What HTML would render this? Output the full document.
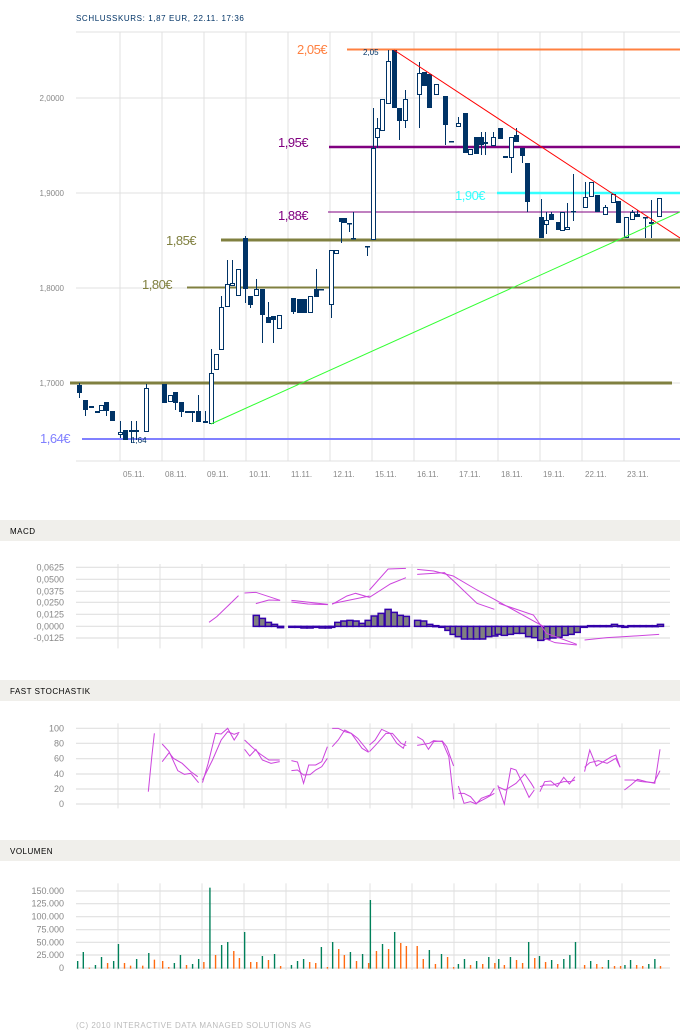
<!DOCTYPE html>
<html><head><meta charset="utf-8"><style>
html,body{margin:0;padding:0;background:#fff;width:680px;height:1034px;overflow:hidden}
svg{display:block;font-family:"Liberation Sans",sans-serif}
.ax{font-size:8px;fill:#888}
.hd{font-size:8px;fill:#000;letter-spacing:0.5px}
</style></head><body>
<svg id="s" width="680" height="1034" xmlns="http://www.w3.org/2000/svg">
<text x="76" y="21" style="font-size:8px;fill:#003366;letter-spacing:0.6px">SCHLUSSKURS: 1,87 EUR, 22.11. 17:36</text>
<g id="main"></g>
<rect x="0" y="520" width="680" height="21" fill="#f0efeb"/>
<text x="10" y="534" class="hd">MACD</text>
<rect x="0" y="680" width="680" height="21" fill="#f0efeb"/>
<text x="10" y="694" class="hd">FAST STOCHASTIK</text>
<rect x="0" y="840" width="680" height="21" fill="#f0efeb"/>
<text x="10" y="854" class="hd">VOLUMEN</text>
<g id="macd"></g><g id="sto"></g><g id="vol"></g>
<text x="76" y="1028" style="font-size:8px;fill:#bbb;letter-spacing:0.5px">(C) 2010 INTERACTIVE DATA MANAGED SOLUTIONS AG</text>
</svg>
<script>
var NS="http://www.w3.org/2000/svg";
function el(p,t,a,txt){var e=document.createElementNS(NS,t);for(var k in a)e.setAttribute(k,a[k]);if(txt!=null)e.textContent=txt;p.appendChild(e);return e;}
var m=document.getElementById('main');
// grid
el(m,'line',{x1:76,y1:32,x2:680,y2:32,stroke:'#e0e0e0'});
el(m,'line',{x1:76,y1:461,x2:680,y2:461,stroke:'#e0e0e0'});
[[98,'2,0000'],[193,'1,9000'],[288,'1,8000'],[383,'1,7000']].forEach(function(g){el(m,'line',{x1:76,y1:g[0],x2:680,y2:g[0],stroke:'#e0e0e0'});el(m,'text',{x:64,y:g[0]+3,'text-anchor':'end','class':'ax'},g[1]);});
var dates=['05.11.','08.11.','09.11.','10.11.','11.11.','12.11.','15.11.','16.11.','17.11.','18.11.','19.11.','22.11.','23.11.'];
for(var k=0;k<13;k++){var x=120+42*k;el(m,'line',{x1:x,y1:32,x2:x,y2:461,stroke:'#e0e0e0'});el(m,'text',{x:x+3,y:477,'class':'ax'},dates[k]);}
// horizontal levels
function hl(y,x1,x2,c,w){el(m,'line',{x1:x1,y1:y,x2:x2,y2:y,stroke:c,'stroke-width':w});}
hl(49.5,347,680,'#ff8040',2);hl(147,329,680,'#800080',2.5);hl(193,497,680,'#33ffff',2.5);hl(212,328,680,'#800080',1);
hl(240,221,680,'#808040',3);hl(287.5,187,680,'#808040',2);hl(383,70,672,'#808040',3);hl(439,82,680,'#8080ff',2);
function lb(x,y,t,c){el(m,'text',{x:x,y:y,style:'font-size:13px;fill:'+c+';letter-spacing:-0.5px'},t);}
lb(297,54,'2,05€','#ff8040');lb(278,147,'1,95€','#800080');lb(455,200,'1,90€','#33ffff');lb(278,220,'1,88€','#800080');
lb(166,245,'1,85€','#808040');lb(142,289,'1,80€','#808040');lb(40,443,'1,64€','#8080ff');
// candles
var C=[[79,385,393,383,398,1],[85,400,410,400,416,1],[91,406,408,406,408,1],[97,411,413,411,413,1],[101,405,411,405,411,0],[106,402,411,402,416,1],[112,411,421,411,421,1],[120,432,435,421,438,0],[125,430,440,430,440,1],[131,430,432,421,443,0],[136,430,432,421,440,1],[146,388,432,384,432,0],[164,384,403,384,403,1],[170,395,402,395,402,0],[175,392,403,392,410,1],[181,402,412,402,417,1],[187,411,413,411,413,1],[192,411,413,411,422,1],[198,411,422,395,422,1],[205,421,423,411,423,1],[211,373,424,349,424,0],[216,354,370,354,370,0],[221,307,350,296,350,0],[227,284,307,260,307,0],[232,283,286,260,286,0],[238,269,296,269,296,0],[245,238,289,236,303,1],[250,296,305,296,308,1],[256,289,296,279,296,0],[262,289,315,289,343,1],[268,317,323,302,323,1],[273,316,320,316,343,1],[279,315,329,315,329,0],[293,298,312,298,314,1],[299,299,313,299,313,1],[304,299,313,299,313,1],[310,296,313,296,313,0],[316,289,297,269,297,1],[321,289,290,289,290,1],[331,250,305,250,318,0],[336,250,254,250,254,0],[341,218,222,218,243,1],[344,218,223,218,223,1],[349,223,224,223,232,1],[353,238,239,212,239,1],[367,246,247,246,256,1],[373,148,240,108,240,0],[377,128,138,118,148,0],[382,99,131,99,131,0],[388,61,104,50,104,0],[394,50,108,50,108,1],[399,108,121,108,140,1],[405,99,121,90,128,0],[419,73,95,62,128,0],[424,72,86,72,86,1],[429,74,108,74,108,1],[436,84,95,84,95,0],[445,96,125,96,145,1],[451,141,142,141,142,1],[458,123,127,117,127,0],[465,113,153,113,153,1],[470,149,155,149,155,0],[476,137,154,137,154,1],[481,137,145,132,155,1],[485,142,144,132,155,0],[493,137,146,132,146,0],[500,128,139,128,139,1],[505,156,158,156,158,1],[511,137,158,137,173,0],[516,135,142,128,142,1],[522,148,156,148,163,1],[527,163,202,163,212,1],[541,217,238,199,238,1],[546,220,225,212,234,0],[551,214,220,212,220,1],[558,222,230,222,230,1],[562,212,231,212,231,0],[567,227,230,203,230,0],[573,211,212,174,221,1],[585,197,208,182,208,0],[591,182,197,182,197,0],[597,195,212,195,212,1],[605,207,215,205,215,0],[613,194,203,194,203,0],[618,201,223,201,223,1],[626,217,238,217,238,0],[632,212,220,210,220,0],[637,214,217,210,217,1],[645,217,218,217,238,1],[651,222,224,200,238,1],[659,198,217,198,217,0]];
C.forEach(function(c){el(m,'line',{x1:c[0]+0.5,y1:c[3],x2:c[0]+0.5,y2:c[4],stroke:'#003366'});
 if(c[5])el(m,'rect',{x:c[0]-2,y:c[1],width:5,height:Math.max(1.5,c[2]-c[1]),fill:'#003366'});
 else el(m,'rect',{x:c[0]-1.5,y:c[1]+0.5,width:4,height:Math.max(1,c[2]-c[1]-1),fill:'#fff',stroke:'#003366'});});
el(m,'text',{x:363,y:55,style:'font-size:8px;fill:#003366'},'2,05');
el(m,'text',{x:131,y:443,style:'font-size:8px;fill:#003366'},'1,64');
el(m,'line',{x1:394,y1:50,x2:680,y2:238,stroke:'#ff0000'});
el(m,'line',{x1:211,y1:424,x2:680,y2:212,stroke:'#33ff33'});
// sub panels via zoom coordinates
function panel(id,y0,labels,vy1,vy2){var g=document.getElementById(id);
 labels.forEach(function(l){var y=y0+l[0]/3;el(g,'line',{x1:76,y1:y,x2:670,y2:y,stroke:'#e0e0e0','stroke-width':1.2});el(g,'text',{x:64,y:y+3,'text-anchor':'end','class':'ax',style:'font-size:9px'},l[1]);});
 for(var k=0;k<13;k++){var x=118+42*k;el(g,'line',{x1:x,y1:y0+vy1/3,x2:x,y2:y0+vy2/3,stroke:'#e0e0e0'});}
 return el(g,'g',{transform:'translate(0,'+y0+') scale('+(1/2.306)+','+(1/3)+')'});}
function pl(g,pts,c,w){el(g,'polyline',{points:pts.map(function(p){return p.join(',')}).join(' '),fill:'none',stroke:c,'stroke-width':w||1,'vector-effect':'non-scaling-stroke'});}
// MACD
var mg=panel('macd',510,[[172,'0,0625'],[208,'0,0500'],[244,'0,0375'],[277,'0,0250'],[313,'0,0125'],[349,'0,0000'],[384,'-0,0125']],162,415);
var H=[[584,316],[598,325],[612,337],[626,343],[640,353],[666,352],[680,352],[694,354],[708,354],[722,351],[736,354],[750,354],[758,352],[772,337],[786,333],[800,331],[814,333],[828,340],[842,331],[856,318],[872,310],[888,298],[902,307],[916,316],[930,319],[956,331],[970,333],[984,343],[998,347],[1012,352],[1026,361],[1038,373],[1050,380],[1064,387],[1078,387],[1092,387],[1106,387],[1120,380],[1134,378],[1142,373],[1156,376],[1170,373],[1184,370],[1198,370],[1212,380],[1226,383],[1240,391],[1254,387],[1268,384],[1282,382],[1296,376],[1310,373],[1324,367],[1340,352],[1355,347],[1370,347],[1384,347],[1398,347],[1410,343],[1424,347],[1434,352],[1448,347],[1462,347],[1476,347],[1490,347],[1504,347],[1516,343]];
H.forEach(function(h){var t=Math.min(h[1],349),b=Math.max(h[1],349);el(mg,'rect',{x:h[0],y:t,width:14,height:Math.max(3,b-t),fill:'#808080',stroke:'#3300aa','stroke-width':1.5,'vector-effect':'non-scaling-stroke'});});
var mc='#cc44dd';
[[[482,337],[500,320],[550,257]],[[564,249],[590,247],[646,271]],[[590,281],[620,270],[646,271]],[[672,271],[700,275],[756,283]],[[672,276],[710,282],[756,284]],[[766,283],[800,258],[820,250],[852,262]],[[766,281],[852,258]],[[852,240],[895,177],[936,175]],[[852,262],[900,222],[936,203]],[[962,178],[1000,183],[1045,198],[1100,240],[1140,268],[1240,340],[1255,350]],[[962,193],[1025,188],[1050,218],[1100,280],[1140,298]],[[1150,280],[1230,315],[1260,370],[1330,403]],[[1255,385],[1280,398],[1330,405]],[[1348,390],[1400,383],[1440,380],[1520,373]]].forEach(function(p){pl(mg,p,mc);});
// Stochastik
var sg=panel('sto',680,[[145,'100'],[190,'80'],[236,'60'],[282,'40'],[327,'20'],[372,'0']],130,385);
[[[342,335],[350,230],[356,160]],[[374,192],[390,215],[410,272],[425,283],[440,280],[458,308]],[[374,245],[390,218],[400,235],[420,250],[440,275],[456,290]],[[467,308],[480,250],[497,160],[510,162],[525,145],[540,180],[550,160]],[[467,300],[490,240],[510,180],[525,155],[540,163],[552,157]],[[564,180],[580,200],[600,222],[620,240],[645,240]],[[564,208],[576,228],[590,208],[605,240],[625,250],[645,245]],[[672,242],[686,246],[700,310],[712,255],[728,255],[742,245],[755,200]],[[672,272],[686,270],[700,285],[715,284],[728,270],[742,260],[755,235]],[[766,145],[780,145],[795,155],[810,160],[825,175],[850,215]],[[766,200],[780,180],[795,150],[810,160],[835,205],[850,217]],[[852,195],[865,180],[880,148],[900,160],[915,190],[930,205],[936,183]],[[852,215],[870,190],[890,160],[905,160],[925,190],[937,197]],[[962,170],[975,180],[988,208],[1000,185],[1020,183],[1030,200],[1046,258]],[[962,196],[990,190],[1000,182],[1020,185],[1035,230],[1046,358]],[[1057,318],[1070,370],[1085,365],[1098,372],[1110,355],[1130,345],[1140,325]],[[1057,340],[1070,340],[1085,350],[1098,370],[1120,355],[1140,340]],[[1148,316],[1163,372],[1178,265],[1190,270],[1205,310],[1220,352],[1232,330]],[[1148,320],[1165,330],[1190,310],[1210,282],[1225,310],[1232,325]],[[1245,335],[1256,305],[1270,303],[1285,320],[1300,292],[1313,312],[1326,290]],[[1245,320],[1256,315],[1275,315],[1300,305],[1315,305],[1326,300]],[[1348,275],[1360,210],[1375,258],[1395,242],[1410,230],[1420,225],[1430,262]],[[1348,262],[1360,248],[1380,242],[1400,250],[1420,235],[1430,262]],[[1440,330],[1455,315],[1470,298],[1490,305],[1510,310],[1522,208]],[[1440,300],[1460,300],[1480,305],[1508,308],[1522,272]]].forEach(function(p){pl(sg,p,mc);});
// Volume
var vg=panel('vol',840,[[153,'150.000'],[191,'125.000'],[230,'100.000'],[269,'75.000'],[307,'50.000'],[345,'25.000'],[384,'0']],130,390);
var V="179 363 g,192 336 g,206 383 o,220 375 g,234 351 g,248 369 o,262 363 g,273 312 g,287 369 o,301 377 o,315 357 g,329 377 o,343 339 g,356 359 o,375 363 o,389 381 o,402 369 g,416 345 g,430 375 o,444 372 g,458 357 g,470 366 o,484 143 g,497 345 o,511 315 g,525 306 g,539 333 o,552 354 o,564 276 g,578 366 o,592 366 o,605 348 g,619 360 o,633 342 g,647 378 o,672 375 g,686 363 g,700 357 g,714 366 o,728 369 o,741 321 g,755 381 o,767 306 g,781 327 o,794 345 o,808 336 g,822 363 o,836 342 g,850 369 o,854 180 g,868 333 o,882 312 g,896 327 o,910 276 g,924 309 o,937 318 o,962 318 o,976 357 o,990 330 g,1004 372 o,1018 342 g,1032 351 o,1046 381 o,1057 372 g,1071 357 g,1085 375 o,1099 363 g,1113 372 o,1127 351 g,1141 369 o,1150 357 g,1163 375 o,1177 351 g,1191 360 o,1205 369 o,1219 306 g,1233 354 o,1244 348 g,1258 366 o,1272 360 g,1286 372 o,1300 357 g,1314 345 g,1327 306 g,1348 375 o,1362 363 g,1376 372 o,1389 381 o,1403 360 g,1417 378 o,1431 378 o,1441 375 g,1454 360 g,1468 375 o,1482 378 o,1496 372 g,1510 357 g,1523 378 o";
V.split(',').forEach(function(s){var a=s.split(' ');var x=+a[0],y=+a[1];el(vg,'rect',{x:x-1.5,y:y,width:3.2,height:386-y,fill:a[2]=='g'?'#00805a':'#ff6a10'});});
</script>
</body></html>
